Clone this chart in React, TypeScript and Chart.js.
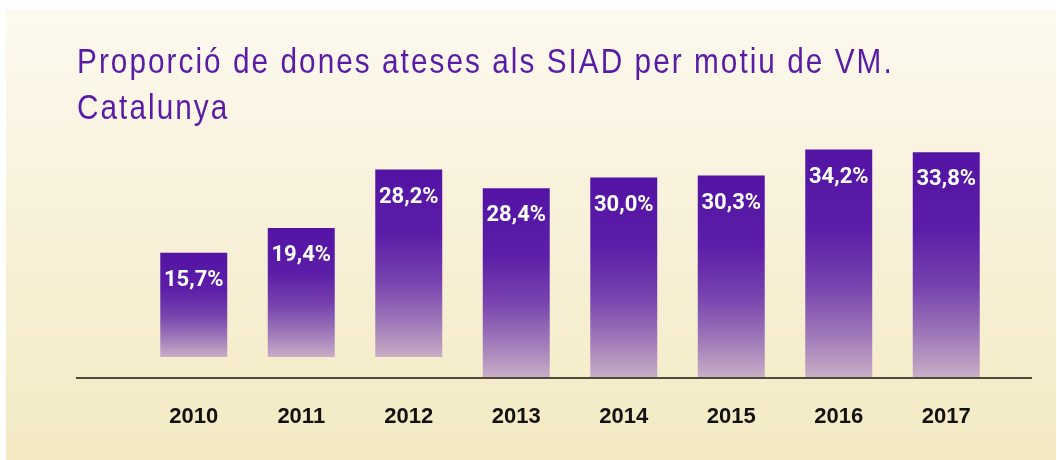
import React, { useEffect, useRef } from "react";
import { Chart, registerables } from "chart.js";

Chart.register(...registerables);

const titleLines = ["Proporció de dones ateses als SIAD per motiu de VM.", "Catalunya"];
const years = ["2010", "2011", "2012", "2013", "2014", "2015", "2016", "2017"];
const values = [15.7, 19.4, 28.2, 28.4, 30.0, 30.3, 34.2, 33.8];
// bars of the first three years float slightly above the axis in the original
const barBases = [3, 3, 3, 0, 0, 0, 0, 0];
const valueLabels = ["15,7%", "19,4%", "28,2%", "28,4%", "30,0%", "30,3%", "34,2%", "33,8%"];

const deco = {
  id: "deco",
  beforeDraw(chart: any) {
    const { ctx } = chart;
    ctx.save();
    ctx.fillStyle = "#ffffff";
    ctx.fillRect(0, 0, chart.width, chart.height);
    const g = ctx.createLinearGradient(0, 10, 0, 460);
    g.addColorStop(0, "#fcf9ef");
    g.addColorStop(0.45, "#f8f1da");
    g.addColorStop(1, "#f3eac3");
    ctx.fillStyle = g;
    ctx.fillRect(6, 10, 1050, 450);
    // title (condensed look)
    ctx.fillStyle = "#5a1ca6";
    ctx.font = "35px 'Liberation Sans', Arial, sans-serif";
    (ctx as any).letterSpacing = "2.4px";
    ctx.textBaseline = "alphabetic";
    ctx.textAlign = "left";
    ctx.translate(77, 0);
    ctx.scale(0.85, 1);
    ctx.fillText(titleLines[0], 0, 73);
    ctx.fillText(titleLines[1], 0, 119);
    ctx.restore();
  },
  afterDatasetsDraw(chart: any) {
    const { ctx } = chart;
    const xs = chart.scales.x;
    const ys = chart.scales.y;
    ctx.save();
    // axis line
    const y0 = Math.round(ys.getPixelForValue(0)) + 1;
    ctx.strokeStyle = "#4f4a3a";
    ctx.lineWidth = 2;
    ctx.beginPath();
    ctx.moveTo(76, y0);
    ctx.lineTo(1032, y0);
    ctx.stroke();
    // value labels
    ctx.fillStyle = "#ffffff";
    ctx.font = "bold 22px Roboto, 'Liberation Sans', sans-serif";
    ctx.textAlign = "center";
    ctx.textBaseline = "alphabetic";
    const meta = chart.getDatasetMeta(0);
    meta.data.forEach((bar: any, i: number) => {
      ctx.fillText(valueLabels[i], bar.x, bar.y + 33);
    });
    // year labels
    ctx.fillStyle = "#111111";
    ctx.font = "bold 22px 'Liberation Sans', Arial, sans-serif";
    years.forEach((yr, i) => {
      ctx.fillText(yr, xs.getPixelForValue(i), 423);
    });
    ctx.restore();
  },
};

export default function App() {
  const ref = useRef<HTMLCanvasElement | null>(null);
  useEffect(() => {
    if (!ref.current) return;
    const chart = new Chart(ref.current, {
      type: "bar",
      data: {
        labels: years,
        datasets: [
          {
            data: values.map((v, i) => [barBases[i], barBases[i] + v]) as any,
            backgroundColor: (c: any) => {
              const ch = c.chart;
              const ys = ch.scales && ch.scales.y;
              if (!ys || !ch.chartArea || !Array.isArray(c.raw)) return "#5a18a6";
              const top = ys.getPixelForValue(c.raw[1]);
              const bot = ys.getPixelForValue(c.raw[0]);
              const g = ch.ctx.createLinearGradient(0, top, 0, bot);
              g.addColorStop(0, "#5413a4");
              g.addColorStop(0.35, "#5c1ea8");
              g.addColorStop(0.6, "#7743ae");
              g.addColorStop(0.82, "#a07ab9");
              g.addColorStop(1, "#c8aec6");
              return g;
            },
            borderWidth: 0,
            borderSkipped: false,
            barPercentage: 0.623,
            categoryPercentage: 1,
          },
        ],
      },
      options: {
        responsive: false,
        animation: false,
        layout: { padding: { left: 140, right: 57, top: 111, bottom: 83 } },
        plugins: {
          legend: { display: false },
          title: { display: false },
          tooltip: { enabled: false },
        },
        scales: {
          x: { display: false },
          y: { display: false, min: 0, max: 40 },
        },
      },
      plugins: [deco],
    });
    return () => chart.destroy();
  }, []);
  return (
    <div style={{ position: "absolute", left: 0, top: 0, width: 1057, height: 460 }}>
      <canvas ref={ref} width={1057} height={460} style={{ display: "block" }} />
    </div>
  );
}
